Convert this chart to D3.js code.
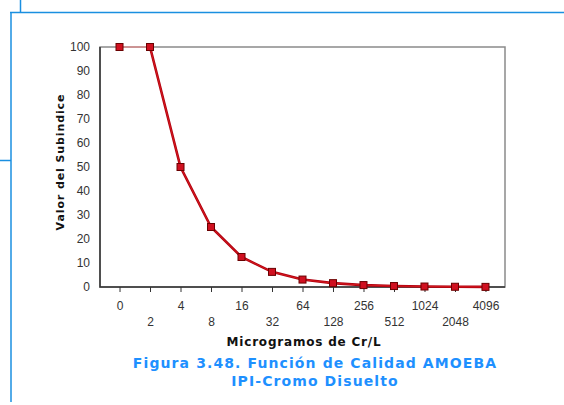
<!DOCTYPE html>
<html><head><meta charset="utf-8">
<script src="https://cdn.jsdelivr.net/npm/d3@7"></script>
<style>body{margin:0;background:#fff}svg{display:block}</style>
</head><body>
<script>
const categories = ["0","2","4","8","16","32","64","128","256","512","1024","2048","4096"];
const values = [100,100,50,25,12.5,6.3,3.1,1.6,0.8,0.4,0.2,0.1,0.05];
const yTicks = [0,10,20,30,40,50,60,70,80,90,100];
const yTitle = "Valor del Subindice";
const xTitle = "Microgramos de Cr/L";
const caption = ["Figura 3.48. Función de Calidad AMOEBA","IPI-Cromo Disuelto"];

const W=564,H=405;
const svg=d3.select("body").append("svg").attr("width",W).attr("height",H);
const blue="#1a8fe0";
// decorative frame lines
svg.append("line").attr("x1",20.5).attr("x2",20.5).attr("y1",0).attr("y2",12).attr("stroke",blue).attr("stroke-width",1.5);
svg.append("line").attr("x1",10).attr("x2",W).attr("y1",12.5).attr("y2",12.5).attr("stroke",blue).attr("stroke-width",1.5);
svg.append("line").attr("x1",11).attr("x2",11).attr("y1",12).attr("y2",402).attr("stroke",blue).attr("stroke-width",1.5);
svg.append("line").attr("x1",0).attr("x2",11).attr("y1",160.5).attr("y2",160.5).attr("stroke",blue).attr("stroke-width",1.5);

const L=100,R=505,T=47,B=287;
const x=d3.scalePoint().domain(categories).range([L,R]).padding(0.64);
const y=d3.scaleLinear().domain([0,100]).range([B,T]);

// plot frame
svg.append("rect").attr("x",L).attr("y",T).attr("width",R-L).attr("height",B-T)
  .attr("fill","#fff").attr("stroke","#8a8a8a").attr("stroke-width",1.5);
svg.append("path").attr("d",`M${L},${T}V${B}H${R}`).attr("fill","none").attr("stroke","#333").attr("stroke-width",1.5);

// y axis
const ya=svg.append("g").attr("transform",`translate(${L},0)`)
  .call(d3.axisLeft(y).tickValues(yTicks).tickSize(0).tickPadding(10));
ya.select(".domain").remove();
ya.selectAll("text").attr("font-family","Liberation Sans, Arial").attr("font-size",12).attr("fill","#333");

// x axis
const xa=svg.append("g").attr("transform",`translate(0,${B})`)
  .call(d3.axisBottom(x).tickSize(5).tickPadding(9));
xa.select(".domain").remove();
xa.selectAll(".tick line").attr("stroke","#333");
xa.selectAll("text").attr("font-family","Liberation Sans, Arial").attr("font-size",12).attr("fill","#333")
  .attr("dy",(d,i)=> i%2? "2.05em":"0.71em");

// line
const pts=categories.map((c,i)=>[x(c),y(values[i])]);
const line=d3.line();
svg.append("path").attr("d",line(pts.slice(0,2))).attr("fill","none").attr("stroke","#f08080").attr("stroke-width",1);
svg.append("path").attr("d",line(pts.slice(1))).attr("fill","none").attr("stroke","#b00010").attr("stroke-width",2.6);
svg.append("path").attr("d",line(pts.slice(1))).attr("fill","none").attr("stroke","#e02020").attr("stroke-width",0.8);
svg.selectAll("rect.m").data(pts).enter().append("rect").attr("class","m")
  .attr("x",d=>d[0]-3.5).attr("y",d=>d[1]-3.5).attr("width",7).attr("height",7)
  .attr("fill","#d01020").attr("stroke","#6a0000").attr("stroke-width",1);

// titles
svg.append("text").attr("transform",`translate(64,162) rotate(-90)`).attr("text-anchor","middle")
  .attr("font-family","DejaVu Sans, Verdana").attr("font-weight","bold").attr("font-size",11)
  .attr("letter-spacing",0.9).attr("fill","#111").text(yTitle);
svg.append("text").attr("x",304).attr("y",346).attr("text-anchor","middle")
  .attr("font-family","DejaVu Sans, Verdana").attr("font-weight","bold").attr("font-size",12)
  .attr("letter-spacing",0.8).attr("fill","#111").text(xTitle);
caption.forEach((c,i)=>svg.append("text").attr("x",315).attr("y",368+i*18).attr("text-anchor","middle")
  .attr("font-family","DejaVu Sans, Verdana").attr("font-weight","bold").attr("font-size",14)
  .attr("letter-spacing",1.1).attr("fill","#1e90ff").text(c));
</script>
</body></html>
